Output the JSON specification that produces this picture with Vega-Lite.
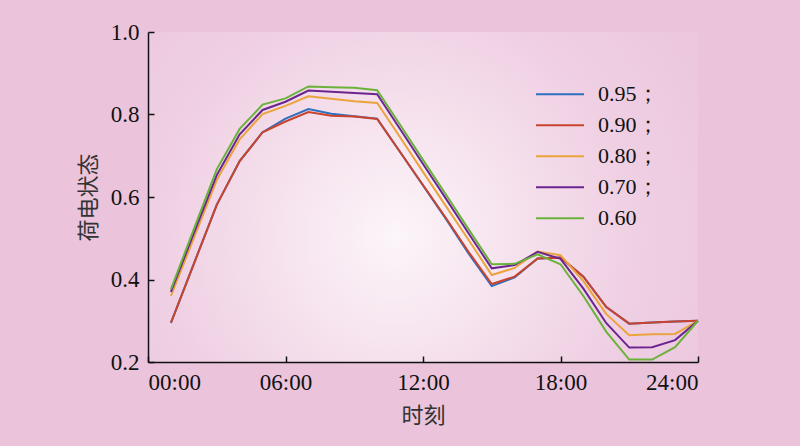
{
  "$schema": "https://vega.github.io/schema/vega-lite/v6.json",
  "autosize": "none",
  "width": 550,
  "height": 330,
  "padding": {"left": 148, "top": 32, "right": 102, "bottom": 84},
  "background": "#ebc4dc",
  "config": {
    "view": {
      "stroke": null,
      "fill": {
        "gradient": "radial",
        "x1": 0.45, "y1": 0.57, "r1": 0,
        "x2": 0.45, "y2": 0.57, "r2": 0.8,
        "stops": [
          {"offset": 0, "color": "#fcf5f9"},
          {"offset": 0.3, "color": "#f5e0ec"},
          {"offset": 0.55, "color": "#efcfe3"},
          {"offset": 0.8, "color": "#ecc7de"},
          {"offset": 1, "color": "#ebc4dc"}
        ]
      }
    },
    "axis": {
      "domainColor": "#111111",
      "domainWidth": 1.5,
      "tickColor": "#111111",
      "tickWidth": 1.5,
      "tickSize": -6,
      "grid": false,
      "labelFont": "Liberation Serif, Times New Roman, DejaVu Serif, serif",
      "labelFontSize": 23,
      "labelColor": "#111111",
      "titleFont": "Noto Sans CJK SC",
      "titleFontSize": 22,
      "titleFontWeight": "normal",
      "titleColor": "#333333"
    }
  },
  "data": {
    "values": [
      {"h": 1, "s": "0.95", "v": 0.295}, {"h": 2, "s": "0.95", "v": 0.438}, {"h": 3, "s": "0.95", "v": 0.581}, {"h": 4, "s": "0.95", "v": 0.687},
      {"h": 5, "s": "0.95", "v": 0.757}, {"h": 6, "s": "0.95", "v": 0.790}, {"h": 7, "s": "0.95", "v": 0.813}, {"h": 8, "s": "0.95", "v": 0.802},
      {"h": 9, "s": "0.95", "v": 0.796}, {"h": 10, "s": "0.95", "v": 0.790}, {"h": 11, "s": "0.95", "v": 0.709}, {"h": 12, "s": "0.95", "v": 0.628},
      {"h": 13, "s": "0.95", "v": 0.547}, {"h": 14, "s": "0.95", "v": 0.462}, {"h": 15, "s": "0.95", "v": 0.384}, {"h": 16, "s": "0.95", "v": 0.405},
      {"h": 17, "s": "0.95", "v": 0.451}, {"h": 18, "s": "0.95", "v": 0.453}, {"h": 19, "s": "0.95", "v": 0.407}, {"h": 20, "s": "0.95", "v": 0.333},
      {"h": 21, "s": "0.95", "v": 0.293}, {"h": 22, "s": "0.95", "v": 0.296}, {"h": 23, "s": "0.95", "v": 0.298}, {"h": 24, "s": "0.95", "v": 0.300},

      {"h": 1, "s": "0.90", "v": 0.295}, {"h": 2, "s": "0.90", "v": 0.438}, {"h": 3, "s": "0.90", "v": 0.581}, {"h": 4, "s": "0.90", "v": 0.687},
      {"h": 5, "s": "0.90", "v": 0.757}, {"h": 6, "s": "0.90", "v": 0.783}, {"h": 7, "s": "0.90", "v": 0.806}, {"h": 8, "s": "0.90", "v": 0.797},
      {"h": 9, "s": "0.90", "v": 0.795}, {"h": 10, "s": "0.90", "v": 0.789}, {"h": 11, "s": "0.90", "v": 0.709}, {"h": 12, "s": "0.90", "v": 0.629},
      {"h": 13, "s": "0.90", "v": 0.549}, {"h": 14, "s": "0.90", "v": 0.466}, {"h": 15, "s": "0.90", "v": 0.389}, {"h": 16, "s": "0.90", "v": 0.407},
      {"h": 17, "s": "0.90", "v": 0.451}, {"h": 18, "s": "0.90", "v": 0.453}, {"h": 19, "s": "0.90", "v": 0.407}, {"h": 20, "s": "0.90", "v": 0.333},
      {"h": 21, "s": "0.90", "v": 0.293}, {"h": 22, "s": "0.90", "v": 0.296}, {"h": 23, "s": "0.90", "v": 0.298}, {"h": 24, "s": "0.90", "v": 0.300},

      {"h": 1, "s": "0.80", "v": 0.360}, {"h": 2, "s": "0.80", "v": 0.500}, {"h": 3, "s": "0.80", "v": 0.641}, {"h": 4, "s": "0.80", "v": 0.740},
      {"h": 5, "s": "0.80", "v": 0.801}, {"h": 6, "s": "0.80", "v": 0.821}, {"h": 7, "s": "0.80", "v": 0.844}, {"h": 8, "s": "0.80", "v": 0.838},
      {"h": 9, "s": "0.80", "v": 0.832}, {"h": 10, "s": "0.80", "v": 0.828}, {"h": 11, "s": "0.80", "v": 0.745}, {"h": 12, "s": "0.80", "v": 0.661},
      {"h": 13, "s": "0.80", "v": 0.578}, {"h": 14, "s": "0.80", "v": 0.495}, {"h": 15, "s": "0.80", "v": 0.411}, {"h": 16, "s": "0.80", "v": 0.428},
      {"h": 17, "s": "0.80", "v": 0.468}, {"h": 18, "s": "0.80", "v": 0.459}, {"h": 19, "s": "0.80", "v": 0.396}, {"h": 20, "s": "0.80", "v": 0.316},
      {"h": 21, "s": "0.80", "v": 0.265}, {"h": 22, "s": "0.80", "v": 0.267}, {"h": 23, "s": "0.80", "v": 0.268}, {"h": 24, "s": "0.80", "v": 0.300},

      {"h": 1, "s": "0.70", "v": 0.370}, {"h": 2, "s": "0.70", "v": 0.512}, {"h": 3, "s": "0.70", "v": 0.653}, {"h": 4, "s": "0.70", "v": 0.752},
      {"h": 5, "s": "0.70", "v": 0.811}, {"h": 6, "s": "0.70", "v": 0.831}, {"h": 7, "s": "0.70", "v": 0.858}, {"h": 8, "s": "0.70", "v": 0.855},
      {"h": 9, "s": "0.70", "v": 0.852}, {"h": 10, "s": "0.70", "v": 0.849}, {"h": 11, "s": "0.70", "v": 0.765}, {"h": 12, "s": "0.70", "v": 0.680},
      {"h": 13, "s": "0.70", "v": 0.596}, {"h": 14, "s": "0.70", "v": 0.511}, {"h": 15, "s": "0.70", "v": 0.427}, {"h": 16, "s": "0.70", "v": 0.435},
      {"h": 17, "s": "0.70", "v": 0.467}, {"h": 18, "s": "0.70", "v": 0.450}, {"h": 19, "s": "0.70", "v": 0.378}, {"h": 20, "s": "0.70", "v": 0.294},
      {"h": 21, "s": "0.70", "v": 0.235}, {"h": 22, "s": "0.70", "v": 0.236}, {"h": 23, "s": "0.70", "v": 0.253}, {"h": 24, "s": "0.70", "v": 0.300},

      {"h": 1, "s": "0.60", "v": 0.376}, {"h": 2, "s": "0.60", "v": 0.522}, {"h": 3, "s": "0.60", "v": 0.667}, {"h": 4, "s": "0.60", "v": 0.765},
      {"h": 5, "s": "0.60", "v": 0.824}, {"h": 6, "s": "0.60", "v": 0.839}, {"h": 7, "s": "0.60", "v": 0.868}, {"h": 8, "s": "0.60", "v": 0.866},
      {"h": 9, "s": "0.60", "v": 0.865}, {"h": 10, "s": "0.60", "v": 0.859}, {"h": 11, "s": "0.60", "v": 0.775}, {"h": 12, "s": "0.60", "v": 0.690},
      {"h": 13, "s": "0.60", "v": 0.606}, {"h": 14, "s": "0.60", "v": 0.521}, {"h": 15, "s": "0.60", "v": 0.437}, {"h": 16, "s": "0.60", "v": 0.438},
      {"h": 17, "s": "0.60", "v": 0.461}, {"h": 18, "s": "0.60", "v": 0.437}, {"h": 19, "s": "0.60", "v": 0.360}, {"h": 20, "s": "0.60", "v": 0.273},
      {"h": 21, "s": "0.60", "v": 0.206}, {"h": 22, "s": "0.60", "v": 0.206}, {"h": 23, "s": "0.60", "v": 0.236}, {"h": 24, "s": "0.60", "v": 0.300}
    ]
  },
  "mark": {"type": "line", "strokeWidth": 2, "clip": false},
  "encoding": {
    "x": {
      "field": "h", "type": "quantitative",
      "scale": {"domain": [0, 24], "nice": false},
      "axis": {
        "values": [0, 6, 12, 18, 24],
        "labelExpr": "(datum.value < 10 ? '0' : '') + datum.value + ':00'",
        "title": "时刻",
        "labelPadding": 15,
        "titlePadding": 11
      }
    },
    "y": {
      "field": "v", "type": "quantitative",
      "scale": {"domain": [0.2, 1.0], "nice": false, "zero": false},
      "axis": {
        "values": [0.2, 0.4, 0.6, 0.8, 1.0],
        "format": ".1f",
        "title": "荷电状态",
        "labelPadding": 15,
        "titlePadding": 10
      }
    },
    "color": {
      "field": "s", "type": "nominal",
      "sort": ["0.95", "0.90", "0.80", "0.70", "0.60"],
      "scale": {
        "domain": ["0.95", "0.90", "0.80", "0.70", "0.60"],
        "range": ["#2f6fc0", "#c9442c", "#eaa43b", "#6b2590", "#6ab23b"]
      },
      "legend": {
        "title": null,
        "orient": "none",
        "legendX": 387,
        "legendY": 48,
        "symbolType": "stroke",
        "symbolSize": 2304,
        "symbolStrokeWidth": 2,
        "labelOffset": 13,
        "labelFont": "Liberation Serif, Times New Roman, DejaVu Serif, serif",
        "labelFontSize": 22,
        "labelColor": "#111111",
        "clipHeight": 28.6,
        "rowPadding": 2,
        "labelExpr": "datum.label == '0.60' ? datum.label : datum.label + '；'"
      }
    },
    "order": {"field": "h", "type": "quantitative"}
  }
}
